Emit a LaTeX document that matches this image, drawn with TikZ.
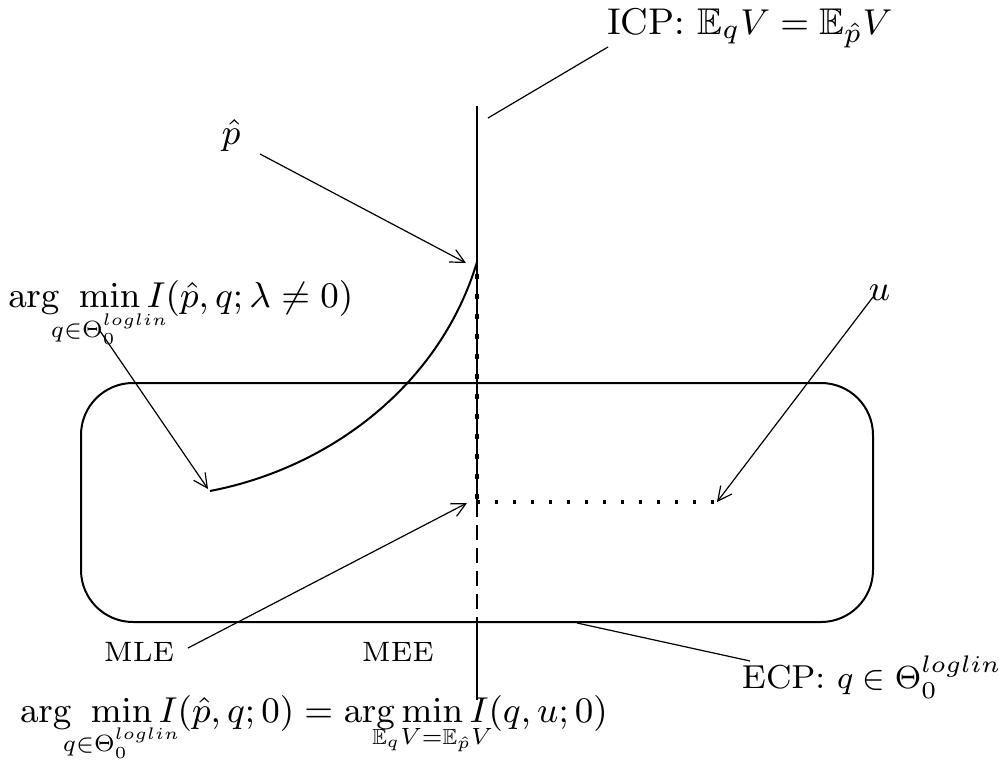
\documentclass[tikz,border=0pt]{standalone}
\usepackage{amssymb}
\usepackage{mathtools}
\usepackage{graphicx}
\usetikzlibrary{arrows.meta}
\newcommand{\limsubscr}[1]{\mathclap{\scalebox{0.84}{$\scriptstyle #1$}}}
\begin{document}
\begin{tikzpicture}[x=0.25pt,y=-0.25pt,
  every node/.style={inner sep=0pt, outer sep=0pt, font=\fontsize{9.3}{11}\selectfont},
  thickline/.style={line width=0.5pt},
  thinline/.style={line width=0.3pt},
  ptr/.style={thinline, -{Straight Barb[length=3.5pt,width=3.5pt]}},
  lbl/.style={anchor=base west},
  smalltext/.style={font=\fontsize{7}{8}\selectfont}]
\useasboundingbox (0,0) rectangle (999,760);
% labels
\node[lbl] (icp) at (607,35) {ICP: $\mathbb{E}_qV=\mathbb{E}_{\hat p}V$};
\node[lbl] (phat) at (222,145) {$\hat p$};
\node[lbl] (lam) at (8,308) {$\displaystyle\arg\ \min_{\limsubscr{q\in\Theta_0^{loglin}}} I(\hat p,q;\lambda\neq 0)$};
\node[lbl] (u) at (869,300) {$u$};
\node[lbl,smalltext] (mlel) at (104,661) {MLE};
\node[lbl,smalltext] (meel) at (362,661) {MEE};
\node[lbl] (bottom) at (20,722) {$\displaystyle\arg\ \min_{\limsubscr{q\in\Theta_0^{loglin}}} I(\hat p,q;0)=\arg\min_{\limsubscr{\mathbb{E}_qV=\mathbb{E}_{\hat p}V}} I(q,u;0)$};
\node[lbl,font=\fontsize{8.3}{10}\selectfont] (ecp) at (742,688) {ECP: $q\in\Theta_0^{loglin}$};
% coordinates
\coordinate (vtop) at (477,106);
\coordinate (ptop) at (477,262);
\coordinate (mee) at (477,502);
\coordinate (vrect) at (477,622);
\coordinate (vbot) at (477,700);
\coordinate (uend) at (717,502);
\coordinate (mle) at (210,491);
\coordinate (phs) at (260,154);
\coordinate (pht) at (466,263);
\coordinate (lams) at (100,331);
\coordinate (mlet) at (208,489);
\coordinate (us) at (873,297);
\coordinate (mles) at (188,648);
\coordinate (meet) at (467,503);
\coordinate (icps) at (608,47);
\coordinate (icpe) at (488,118);
\coordinate (ecps) at (750,661);
\coordinate (ecpe) at (577,623);
% shapes
\draw[thickline, rounded corners=13pt] (81,383) rectangle (873,622);
\draw[thickline] (vtop) -- (mee);
\draw[line width=1.2pt, dash pattern=on 1.2pt off 3.8pt] ([yshift=-3pt]ptop) -- (mee);
\draw[line width=0.7pt, dash pattern=on 3.75pt off 2pt] (mee) -- (vrect);
\draw[thickline] (vrect) -- (vbot);
\draw[line width=0.8pt, dash pattern=on 0.8pt off 3.7pt] (mee) -- (uend);
\draw[thickline] (mle) .. controls (330,468) and (440,385) .. (ptop);
% connectors
\draw[ptr] (phs) -- (pht);
\draw[ptr] (lams) -- (mlet);
\draw[ptr] (us) -- (uend);
\draw[ptr] (mles) -- (meet);
\draw[thinline] (icps) -- (icpe);
\draw[thinline] (ecps) -- (ecpe);
\end{tikzpicture}
\end{document}
